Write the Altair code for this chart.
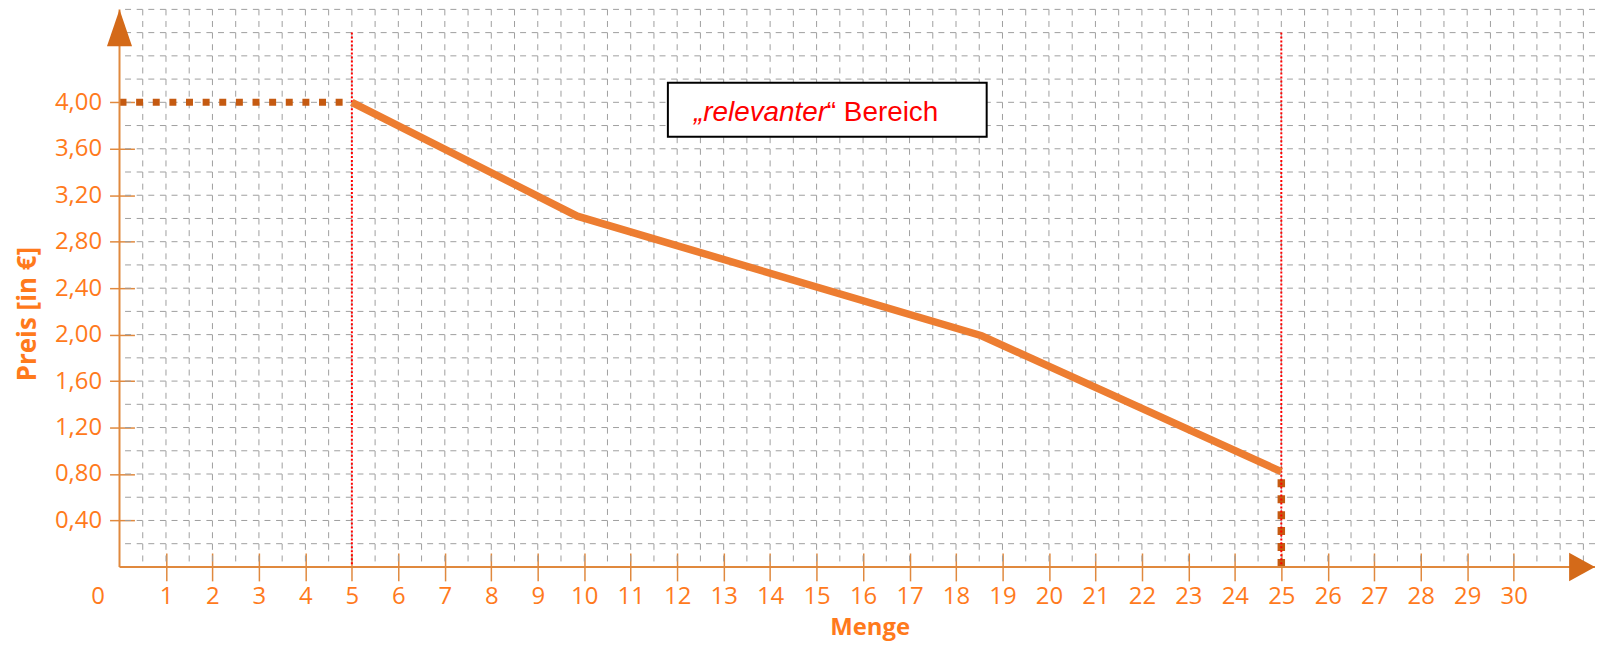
import altair as alt
import pandas as pd

# ---- data ----
menge_ticks = list(range(1, 31))
preis_ticks = [0.4, 0.8, 1.2, 1.6, 2.0, 2.4, 2.8, 3.2, 3.6, 4.0]

kurve_menge = [5, 9.85, 18.55, 25]
kurve_preis = [4.0, 3.02, 1.99, 0.82]

boden_menge = [0, 5]
boden_preis = [4.0, 4.0]
ende_menge = [25, 25]
ende_preis = [0.0, 0.82]

markierung_menge = [5, 25]
markierung_oben = [4.6, 4.6]

grid_menge = [i * 0.5 for i in range(1, 64)]
grid_preis = [round(i * 0.2, 1) for i in range(1, 25)]

box_menge = [11.8, 18.66]
box_preis = [3.703, 4.168]
text_italic = "\u201erelevanter"
text_normal = "\u201c Bereich"
text_pos_menge = [12.36, 15.22]
text_pos_preis = 3.843

# ---- styling ----
ORANGE_TXT = "#FF7A1C"
AX = "#E0893E"
ARROW = "#D46A19"
LINE = "#ED7D31"
DOTS = "#C55A11"
RED = "#FF0000"
GRID = "#9E9E9E"
FONT = "Open Sans"

XS = alt.Scale(domain=[0, 31.75], nice=False, zero=False)
YS = alt.Scale(domain=[0, 4.8], nice=False, zero=False)

x_axis = alt.Axis(values=menge_ticks, format="d", labelFont=FONT, labelFontSize=24,
                  labelColor=ORANGE_TXT, tickColor=AX, tickSize=28, tickWidth=1.5,
                  offset=-14, domain=False, grid=False, labelPadding=4, title=None,
                  labelFlush=False, labelOverlap=False)
y_axis = alt.Axis(values=preis_ticks,
                  labelExpr="replace(format(datum.value, '.2f'), '.', ',')",
                  labelFont=FONT, labelFontSize=24, labelColor=ORANGE_TXT,
                  tickColor=AX, tickSize=25, tickWidth=1.5, offset=-15,
                  domain=False, grid=False, labelPadding=8, title=None,
                  labelFlush=False, labelOverlap=False)


def X(f="x"):
    return alt.X(f + ":Q", scale=XS, axis=x_axis)


def Y(f="y"):
    return alt.Y(f + ":Q", scale=YS, axis=y_axis)


grid_v = alt.Chart(pd.DataFrame({"x": grid_menge})).mark_rule(
    color=GRID, strokeWidth=1, strokeDash=[6, 5.67]
).encode(x=X())

grid_h = alt.Chart(pd.DataFrame({"y": grid_preis})).mark_rule(
    color=GRID, strokeWidth=1, strokeDash=[6, 5.67]
).encode(y=Y())

red = alt.Chart(pd.DataFrame({"x": markierung_menge, "y": markierung_oben,
                              "y2": [0, 0]})).mark_rule(
    color=RED, strokeWidth=2, strokeDash=[2, 2]
).encode(x=X(), y=Y(), y2="y2:Q")

dots1 = alt.Chart(pd.DataFrame({"x": boden_menge, "y": boden_preis})).mark_line(
    color=DOTS, strokeWidth=7, strokeDash=[7, 9.7], strokeCap="butt"
).encode(x=X(), y=Y())

dots2 = alt.Chart(pd.DataFrame({"x": ende_menge, "y": ende_preis,
                                "o": [0, 1]})).mark_line(
    color=DOTS, strokeWidth=7.5, strokeDash=[8, 8], strokeCap="butt"
).encode(x=X(), y=Y(), order="o:Q")

kurve = alt.Chart(pd.DataFrame({"x": kurve_menge, "y": kurve_preis})).mark_line(
    color=LINE, strokeWidth=7.5, strokeCap="butt", strokeJoin="miter"
).encode(x=X(), y=Y())

yline = alt.Chart(pd.DataFrame({"x": [0]})).mark_rule(color=AX, strokeWidth=2).encode(x=X())
xline = alt.Chart(pd.DataFrame({"y": [0]})).mark_rule(color=AX, strokeWidth=2).encode(y=Y())

arrow_up = alt.Chart(pd.DataFrame({"x": [0], "y": [4.8]})).mark_point(
    shape="M0,0 L0.68,2 L-0.68,2 Z", filled=True, size=1369, color=ARROW, opacity=1
).encode(x=X(), y=Y())

arrow_right = alt.Chart(pd.DataFrame({"x": [31.75], "y": [0]})).mark_point(
    shape="M0,0 L-2,-1.1 L-2,1.1 Z", filled=True, size=676, color=ARROW, opacity=1
).encode(x=X(), y=Y())

zero_lbl = alt.Chart(pd.DataFrame({"x": [0], "t": ["0"]})).mark_text(
    font=FONT, fontSize=24, color=ORANGE_TXT, align="center", baseline="alphabetic",
    dx=-21.6
).encode(x=X(), y=alt.value(597), text="t:N")

box = alt.Chart(pd.DataFrame({"x": [box_menge[0]], "x2": [box_menge[1]],
                              "y": [box_preis[0]], "y2": [box_preis[1]]})).mark_rect(
    fill="white", stroke="black", strokeWidth=2
).encode(x=X(), x2="x2:Q", y=Y(), y2="y2:Q")

t1 = alt.Chart(pd.DataFrame({"x": [text_pos_menge[0]], "y": [text_pos_preis],
                             "t": [text_italic]})).mark_text(
    font="Liberation Sans", fontSize=28, fontStyle="italic", color=RED,
    align="left", baseline="alphabetic"
).encode(x=X(), y=Y(), text="t:N")

t2 = alt.Chart(pd.DataFrame({"x": [text_pos_menge[1]], "y": [text_pos_preis],
                             "t": [text_normal]})).mark_text(
    font="Liberation Sans", fontSize=28, color=RED,
    align="left", baseline="alphabetic"
).encode(x=X(), y=Y(), text="t:N")

ytitle = alt.Chart(pd.DataFrame({"t": ["Preis [in \u20ac]"]})).mark_text(
    font=FONT, fontSize=26, fontWeight="bold", color=ORANGE_TXT, angle=270,
    align="center", baseline="middle"
).encode(x=alt.value(-91.7), y=alt.value(306), text="t:N")

xtitle = alt.Chart(pd.DataFrame({"t": ["Menge"]})).mark_text(
    font=FONT, fontSize=24, fontWeight="bold", color=ORANGE_TXT,
    align="center", baseline="alphabetic"
).encode(x=alt.value(754), y=alt.value(628), text="t:N")

chart = alt.layer(
    grid_v, grid_h, dots1, dots2, red, kurve, yline, xline,
    arrow_up, arrow_right, zero_lbl, box, t1, t2, ytitle, xtitle
).properties(
    width=1482, height=560,
    autosize=alt.AutoSizeParams(type="none"),
    padding={"left": 112, "top": 0, "right": 0, "bottom": 73},
    background="white"
).configure_view(stroke=None)

chart.save("out.html", embed_options={"renderer": "svg", "actions": False})
